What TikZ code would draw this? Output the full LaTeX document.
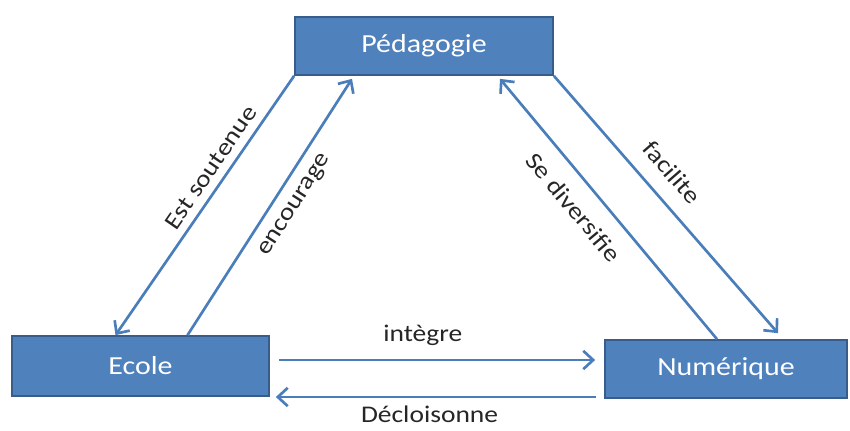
\documentclass[tikz,border=0pt]{standalone}
\usepackage{fontspec}
\setmainfont{Carlito}[FakeStretch=1.15]
\usetikzlibrary{arrows.meta,calc}
\definecolor{azul}{HTML}{4F81BD}
\definecolor{azulborda}{HTML}{385D8A}
\definecolor{azulseta}{HTML}{4A7EBB}
\definecolor{cinza}{HTML}{262626}
\begin{document}
\begin{tikzpicture}[x=0.025cm, y=0.025cm,
                caixa/.style={shape=rectangle, draw=azulborda, fill=azul, line width=1.2pt, text=white, font=\fontsize{18.5}{20}\selectfont},
                seta/.style={draw=azulseta, line width=1.9pt, -{Straight Barb[length=7pt, width=13pt, line width=1.9pt]}},
                rotulo/.style={text=cinza, font=\fontsize{17}{19}\selectfont},
            ]
            \useasboundingbox (0, 0) rectangle (850, 430);
            \node[caixa, minimum width=6.45cm, minimum height=1.45cm] (ped) at (424, 384) {Pédagogie};
            \node[caixa, minimum width=6.425cm, minimum height=1.5cm] (ecole) at (140.5, 64) {Ecole};
            \node[caixa, minimum width=6.05cm, minimum height=1.45cm] (num) at (726, 61) {Numérique};
            \draw[seta] (ped.south west) -- ($(ecole.north)+(-25, 0)$)
                node[rotulo, sloped, pos=0.39, above=2pt] {Est soutenue};
            \draw[seta] ($(ecole.north)+(47, 0)$) -- ($(ped.south)+(-72, -3)$)
                node[rotulo, sloped, pos=0.55, below=5pt] {encourage};
            \draw[seta] ($(num.north)+(-9, 0)$) -- ($(ped.south)+(76, -3)$)
                node[rotulo, sloped, pos=0.57, below=8pt] {Se diversifie};
            \draw[seta] (ped.south east) -- ($(num.north)+(52, 6)$)
                node[rotulo, sloped, pos=0.44, above=8pt] {facilite};
            \draw[seta] ($(ecole.east)+(9, 6)$) -- ($(num.west)+(-9, 9)$)
                node[rotulo, pos=0.455, above=6pt] {intègre};
            \draw[seta] ($(num.west)+(-8, -28)$) -- ($(ecole.east)+(6, -31)$)
                node[rotulo, pos=0.52, below=2pt] {Décloisonne};
        \end{tikzpicture}
\end{document}
